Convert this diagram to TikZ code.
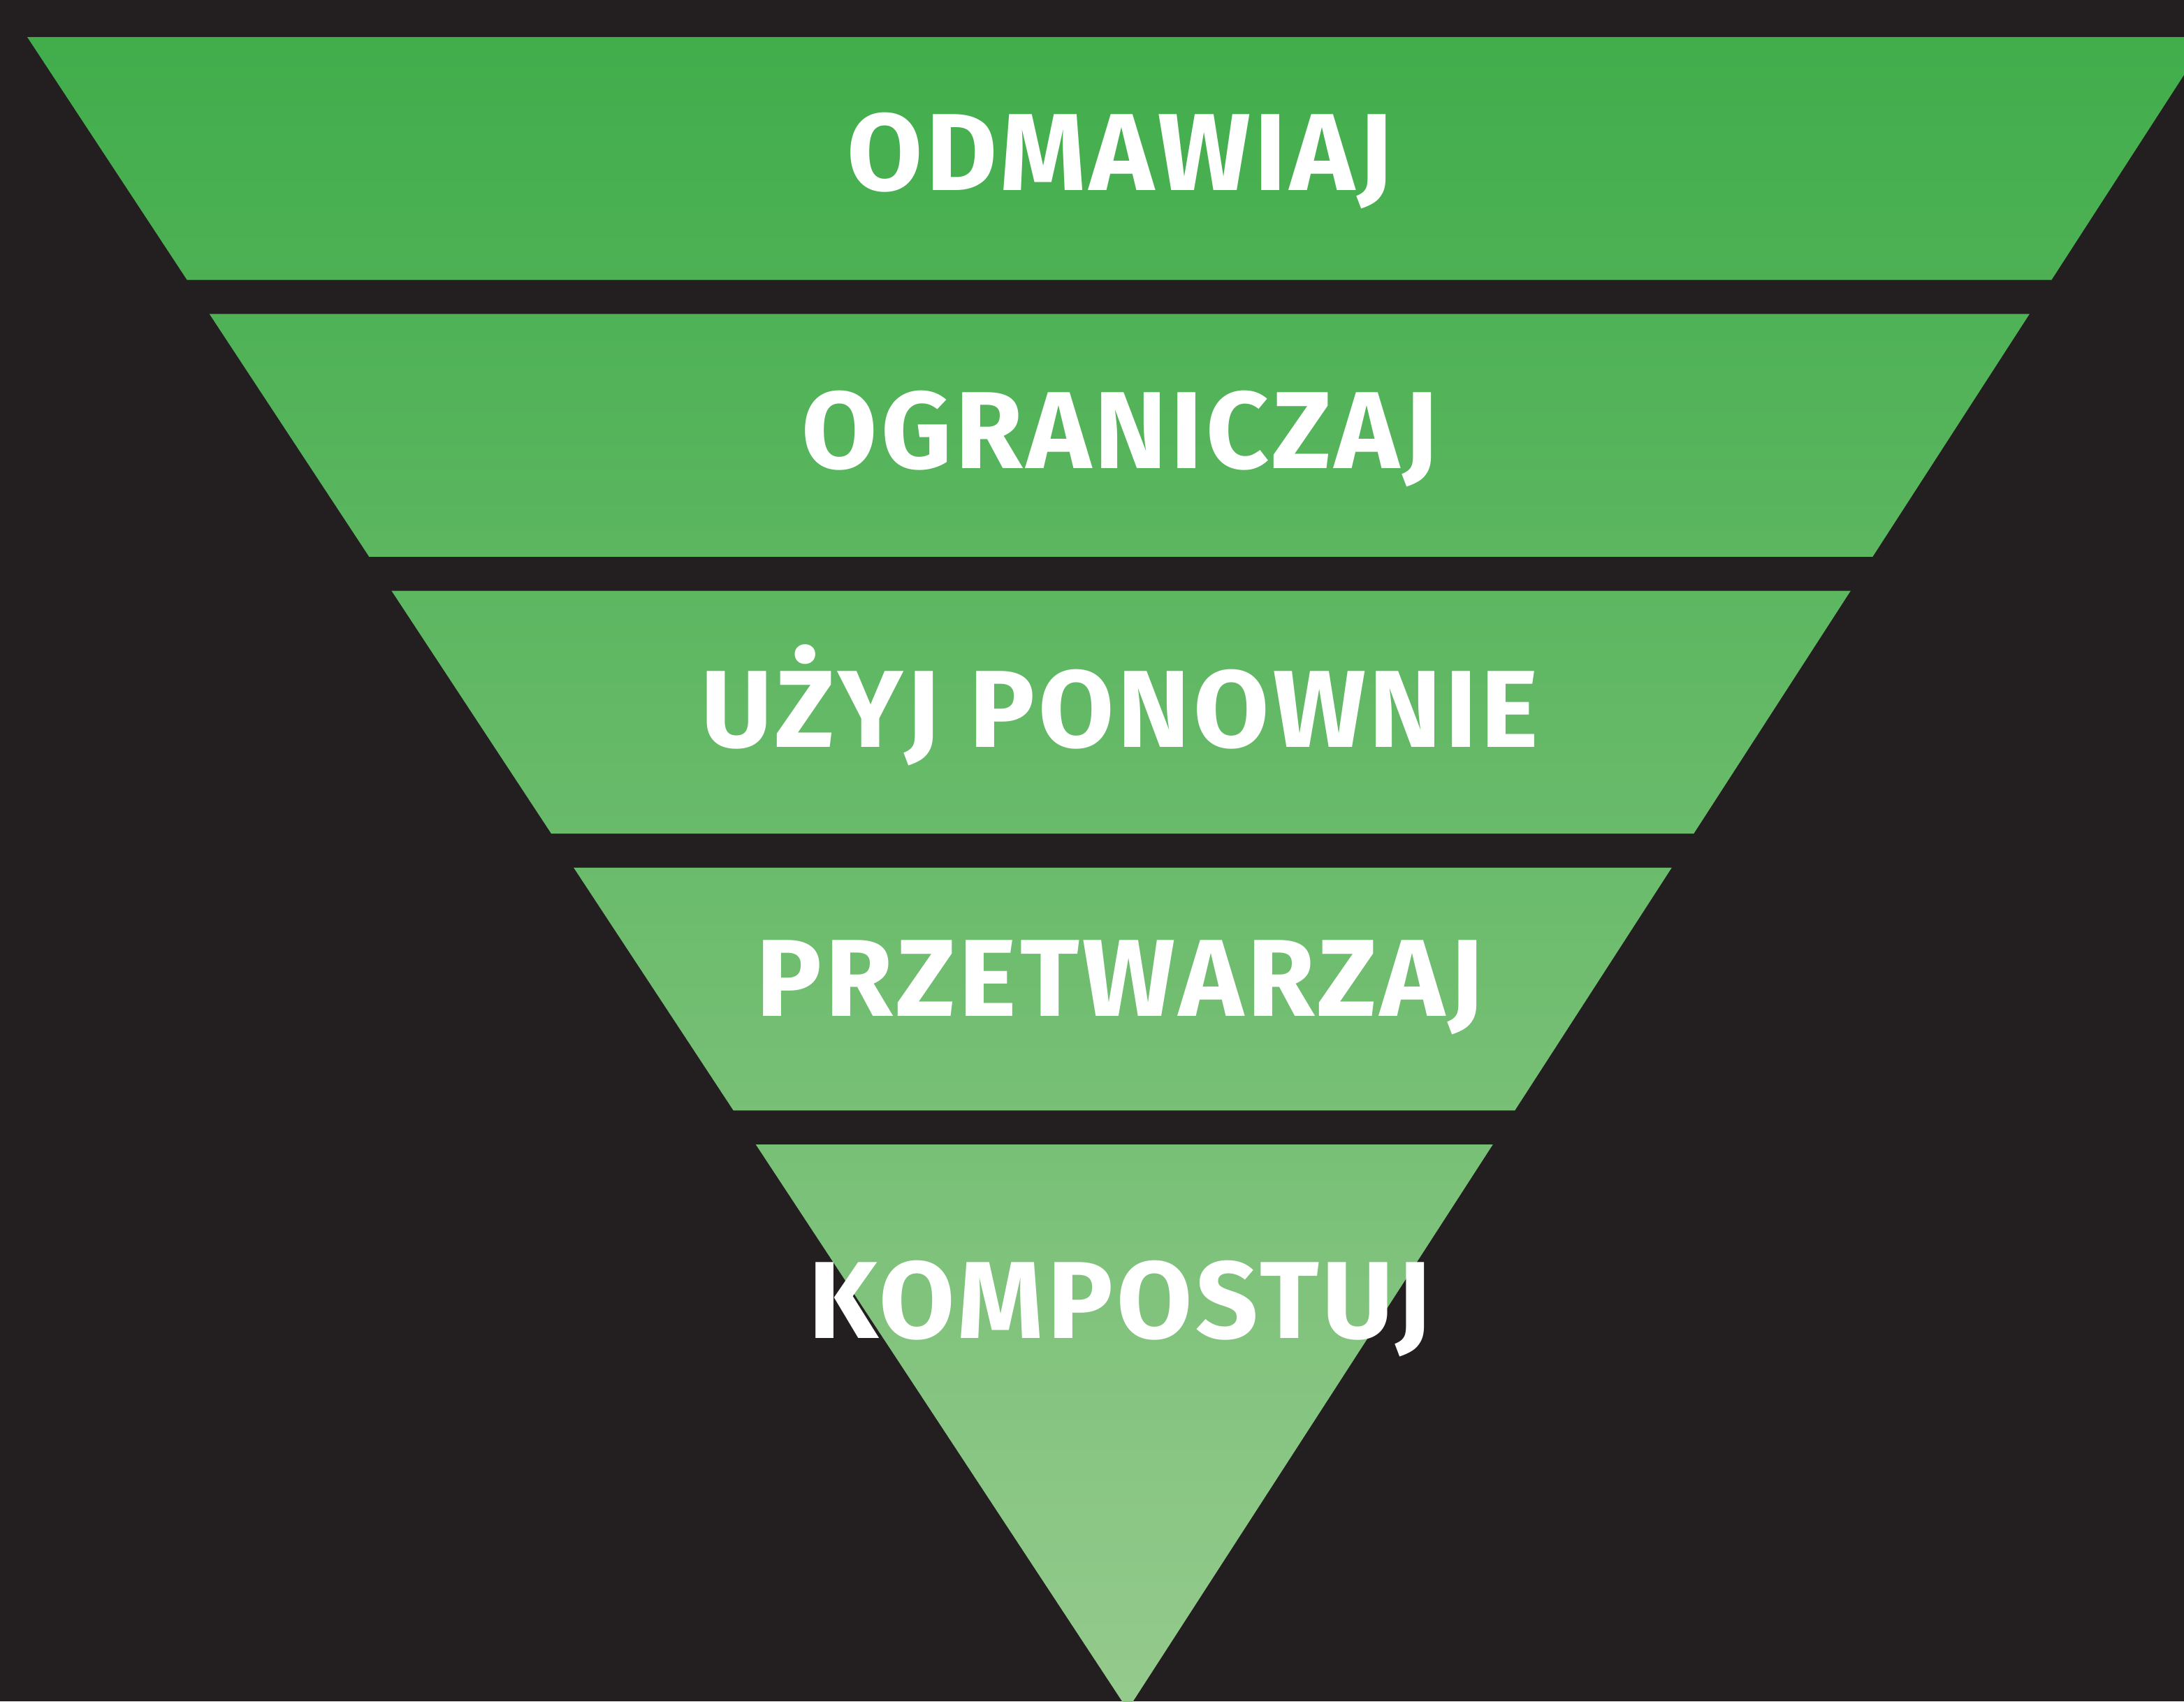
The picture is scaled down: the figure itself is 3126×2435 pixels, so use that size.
\documentclass[tikz,border=0pt]{standalone}
\usepackage{fontspec}
\newfontfamily\layerfont[LetterSpace=3.2]{Fira Sans}
\usetikzlibrary{calc}
\definecolor{bgdark}{RGB}{35,31,32}
\definecolor{greentop}{RGB}{65,173,75}
\definecolor{greenbot}{RGB}{149,202,141}

\begin{document}
\begin{tikzpicture}[x=0.01cm,y=-0.01cm,
        layertext/.style={text=white,font=\layerfont\bfseries\fontsize{44.6pt}{50pt}\selectfont,anchor=base,inner sep=0pt}]

    \fill[bgdark] (0,0) rectangle (3126,2435);
    \useasboundingbox (0,0) rectangle (3126,2435);

    \begin{scope}
        \clip (0,0) rectangle (3126,2435);

        % Triangle
        \coordinate (tl) at (39,53);
        \coordinate (tr) at (3161,53);
        \coordinate (apex) at (1614,2447);
        \clip (tl) -- (tr) -- (apex) -- cycle;

        % Layers
        \shade[top color=greentop,bottom color=greenbot]
            \foreach \t/\b in {53/400.5,449.3/796.8,845.6/1193,1241.9/1589.4,1638.2/2447}
            { (0,\t) rectangle (3200,\b) };
    \end{scope}

    % Labels
    \node[layertext] (refuse) at (1603,272) {ODMAWIAJ};
    \node[layertext] (reduce) at (1603,670) {OGRANICZAJ};
    \node[layertext] (reuse) at (1603,1069) {UŻYJ PONOWNIE};
    \node[layertext] (recycle) at (1603,1454) {PRZETWARZAJ};
    \node[layertext] (compost) at (1603,1915) {KOMPOSTUJ};
\end{tikzpicture}
\end{document}
